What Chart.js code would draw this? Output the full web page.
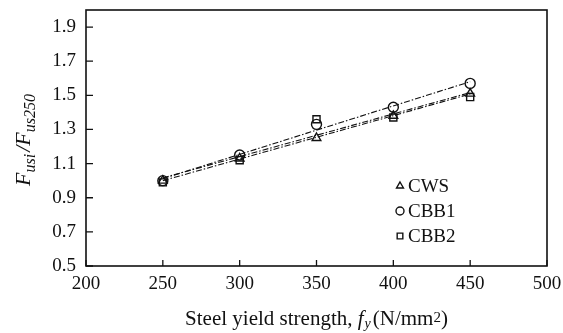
<!DOCTYPE html>
<html>
<head>
<meta charset="utf-8">
<script src="https://cdn.jsdelivr.net/npm/chart.js@4/dist/chart.umd.min.js"></script>
<style>
  html, body { margin: 0; padding: 0; background: #fff; }
  #wrap { width: 563px; height: 333px; }
</style>
</head>
<body>
<div id="wrap"><canvas id="c"></canvas></div>
<script>
// Yield strength of steel (N/mm²)
const strengths = [250, 300, 350, 400, 450];
// Normalised shear capacity F_usi / F_us250 per connector type
const cwsValues  = [1.00, 1.13, 1.25, 1.38, 1.51];
const cbb1Values = [1.00, 1.15, 1.33, 1.43, 1.57];
const cbb2Values = [0.99, 1.12, 1.36, 1.37, 1.49];
const seriesNames = ['CWS', 'CBB1', 'CBB2'];
const markerStyles = ['triangle', 'circle', 'rect'];
const xTicks = [200, 250, 300, 350, 400, 450, 500];
const yTicks = [0.5, 0.7, 0.9, 1.1, 1.3, 1.5, 1.7, 1.9];

const SERIF = '"Liberation Serif", "DejaVu Serif", serif';

// least-squares straight line through a series
function linearFit(xs, ys) {
  const n = xs.length;
  const mx = xs.reduce((a, b) => a + b, 0) / n;
  const my = ys.reduce((a, b) => a + b, 0) / n;
  let sxy = 0, sxx = 0;
  for (let i = 0; i < n; i++) { sxy += (xs[i] - mx) * (ys[i] - my); sxx += (xs[i] - mx) ** 2; }
  const k = sxy / sxx;
  const x0 = xs[0], x1 = xs[n - 1];
  return [{ x: x0, y: my + k * (x0 - mx) }, { x: x1, y: my + k * (x1 - mx) }];
}

const allSeries = [cwsValues, cbb1Values, cbb2Values];
const datasets = [];
allSeries.forEach((vals, i) => {
  datasets.push({
    label: seriesNames[i] + ' fit',
    data: linearFit(strengths, vals),
    showLine: true,
    borderColor: '#111',
    borderWidth: 1.1,
    borderDash: [6, 2, 1.5, 2],
    pointRadius: 0,
    fill: false,
    order: 2
  });
});
allSeries.forEach((vals, i) => {
  datasets.push({
    label: seriesNames[i],
    data: strengths.map((x, j) => ({ x: x, y: vals[j] })),
    showLine: false,
    pointStyle: markerStyles[i],
    pointRadius: 5,
    pointBorderWidth: 1.4,
    pointBorderColor: '#111',
    pointBackgroundColor: 'rgba(255,255,255,0)',
    order: 1
  });
});

// width of a line of text made of styled runs
function runsWidth(ctx, runs) {
  let w = 0;
  runs.forEach(r => { ctx.font = r.font; w += ctx.measureText(r.t).width + (r.gap || 0); });
  return w;
}
function drawRuns(ctx, runs, x, y) {
  runs.forEach(r => {
    ctx.font = r.font;
    ctx.fillText(r.t, x, y + (r.dy || 0));
    x += ctx.measureText(r.t).width + (r.gap || 0);
  });
}

// keep tick labels from pushing the plot area inwards
function noOverflow(s) {
  s.paddingLeft = 0; s.paddingRight = 0; s.paddingTop = 0; s.paddingBottom = 0;
}

const framePlugin = {
  id: 'frame',
  afterDraw(chart) {
    const ctx = chart.ctx;
    const a = chart.chartArea;
    const xs = chart.scales.x, ys = chart.scales.y;
    ctx.save();
    ctx.strokeStyle = '#111';
    ctx.lineWidth = 1.6;
    ctx.strokeRect(a.left, a.top, a.right - a.left, a.bottom - a.top);
    // inward tick marks
    ctx.lineWidth = 1.3;
    ctx.beginPath();
    xTicks.forEach(v => {
      const px = xs.getPixelForValue(v);
      ctx.moveTo(px, a.bottom); ctx.lineTo(px, a.bottom - 6);
    });
    yTicks.forEach(v => {
      const py = ys.getPixelForValue(v);
      ctx.moveTo(a.left, py); ctx.lineTo(a.left + 7, py);
    });
    ctx.stroke();

    // legend inside the plot
    ctx.textBaseline = 'middle';
    ctx.textAlign = 'left';
    const lx = a.left + 314, ly0 = a.top + 176, step = 25;
    seriesNames.forEach((name, i) => {
      const y = ly0 + i * step;
      ctx.fillStyle = 'rgba(255,255,255,0)';
      ctx.strokeStyle = '#111';
      ctx.lineWidth = 1.4;
      Chart.helpers.drawPoint(ctx, {
        pointStyle: markerStyles[i], radius: 4, borderWidth: 1.4, rotation: 0
      }, lx, y);
      ctx.fillStyle = '#111';
      ctx.font = '19px ' + SERIF;
      ctx.fillText(name, lx + 8, y + 1);
    });

    // x axis title
    ctx.fillStyle = '#111';
    ctx.textBaseline = 'alphabetic';
    const xRuns = [
      { t: 'Steel yield strength, ', font: '21px ' + SERIF },
      { t: 'f', font: 'italic 21px ' + SERIF, gap: 1 },
      { t: 'y', font: 'italic 14px ' + SERIF, dy: 3, gap: 2 },
      { t: '(N/mm', font: '21px ' + SERIF },
      { t: '2', font: '15px ' + SERIF, dy: -3 },
      { t: ')', font: '21px ' + SERIF }
    ];
    const xw = runsWidth(ctx, xRuns);
    drawRuns(ctx, xRuns, (a.left + a.right) / 2 - xw / 2, 325);

    // y axis title, rotated
    const yRuns = [
      { t: 'F', font: 'italic 22px ' + SERIF },
      { t: 'usi', font: 'italic 16px ' + SERIF, dy: 5, gap: 2 },
      { t: '/', font: 'italic 22px ' + SERIF },
      { t: 'F', font: 'italic 22px ' + SERIF },
      { t: 'us', font: 'italic 16px ' + SERIF, dy: 5 },
      { t: '250', font: 'italic 16px ' + SERIF, dy: 5 }
    ];
    const yw = runsWidth(ctx, yRuns);
    ctx.translate(30, (a.top + a.bottom) / 2 + 2);
    ctx.rotate(-Math.PI / 2);
    drawRuns(ctx, yRuns, -yw / 2, 0);
    ctx.restore();
  }
};

new Chart(document.getElementById('c'), {
  type: 'scatter',
  data: { datasets: datasets },
  options: {
    responsive: true,
    maintainAspectRatio: false,
    animation: false,
    devicePixelRatio: 1,
    layout: { padding: { top: 10, right: 16, left: 0, bottom: 0 } },
    plugins: { legend: { display: false }, tooltip: { enabled: false } },
    scales: {
      x: {
        type: 'linear',
        min: 200, max: 500,
        afterBuildTicks: s => { s.ticks = xTicks.map(v => ({ value: v })); },
        afterFit: s => { s.height = 67; noOverflow(s); },
        grid: { display: false, drawTicks: false },
        border: { display: false },
        ticks: { color: '#111', padding: 7, font: { family: SERIF, size: 19 }, maxRotation: 0 }
      },
      y: {
        type: 'linear',
        min: 0.5, max: 2.0,
        afterBuildTicks: s => { s.ticks = yTicks.map(v => ({ value: v })); },
        afterFit: s => { s.width = 86; noOverflow(s); },
        grid: { display: false, drawTicks: false },
        border: { display: false },
        ticks: { color: '#111', padding: 10, font: { family: SERIF, size: 19 },
                 callback: v => v.toFixed(1) }
      }
    }
  },
  plugins: [framePlugin]
});
</script>
</body>
</html>
